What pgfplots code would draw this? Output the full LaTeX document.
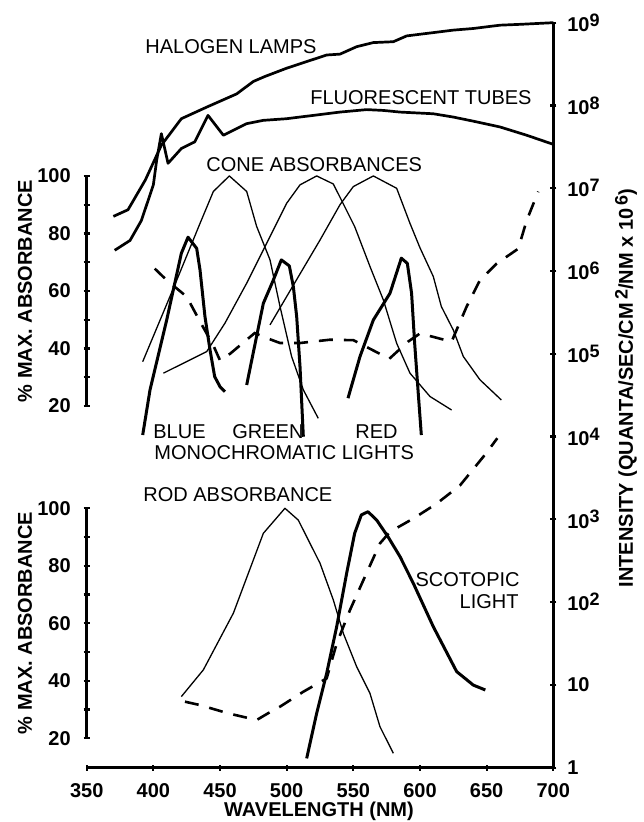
\documentclass[border=0pt]{standalone}
\usepackage{pgfplots}
\pgfplotsset{compat=1.18}
\usepackage{fontspec}
\setmainfont{Liberation Sans}
\newcommand{\expo}[1]{\raisebox{2.6pt}{\fontsize{9}{9}\selectfont #1}}
\begin{document}
\begin{tikzpicture}[x=0.5pt,y=0.5pt]
\useasboundingbox (0,0) rectangle (643,822);
\pgfplotsset{
  base/.style={
    scale only axis, width=233.3pt, height=372.5pt,
    at={(43.35pt,27.15pt)}, anchor=south west,
    xmin=350, xmax=700, clip=false,
    tick align=center, major tick length=3pt, minor tick length=3pt,
    every tick/.style={black, line width=1.1pt},
    /pgf/number format/assume math mode=true,
    tick label style={font=\fontsize{10}{12}\selectfont\bfseries},
  },
  thinc/.style={black, line width=0.65pt, line join=round, no markers},
  thickc/.style={black, line width=1.5pt, line join=round, no markers},
  lamp/.style={black, line width=1.35pt, line join=round, no markers},
  dashc/.style={black, line width=1.3pt, dash pattern=on 7pt off 5.5pt, no markers},
}
% ---------- intensity (log) axis ----------
\begin{axis}[base, ymode=log, ymin=1, ymax=1e9,
  axis x line*=bottom, axis y line*=right,
  axis line style={line width=1.25pt},
  xtick={350,400,450,500,550,600,650,700},
  xticklabels={350,400,450,500,550,600,650,700},
  ytick={1,10,100,1000,1e4,1e5,1e6,1e7,1e8,1e9},
  yticklabels={1,10,10\expo{2},10\expo{3},10\expo{4},10\expo{5},10\expo{6},10\expo{7},10\expo{8},10\expo{9}},
  minor y tick style={draw=none},
  yticklabel style={anchor=west, xshift=2pt},
  xticklabel style={yshift=-3pt},
]
% halogen lamps
\addplot[lamp] coordinates {
(370,4.57e6) (381,5.50e6) (394,1.26e7) (406,3.31e7) (421,6.92e7) (440,9.55e7)
(462.5,1.38e8) (475,1.95e8) (483.7,2.24e8) (500,2.82e8) (515,3.39e8) (530,4.07e8)
(540,4.17e8) (552.5,5.13e8) (565,5.75e8) (580,5.89e8) (590,6.92e8) (610,7.59e8)
(625,8.13e8) (640,8.51e8) (660,9.33e8) (675,9.55e8) (700,1.0e9)};
% fluorescent tubes
\addplot[lamp] coordinates {
(371,1.78e6) (382.5,2.34e6) (391,4.07e6) (400,1.10e7) (402.5,2.19e7) (406,4.57e7)
(411,2.00e7) (421,3.02e7) (431,3.63e7) (441,7.59e7) (452.5,4.37e7) (470,6.03e7)
(482.5,6.61e7) (500,6.92e7) (520,7.59e7) (540,8.32e7) (560,8.91e7) (572.5,8.71e7)
(585,8.32e7) (610,7.94e7) (625,7.24e7) (640,6.46e7) (660,5.50e7) (680,4.37e7) (700,3.39e7)};
% threshold for monochromatic lights (cones)
\addplot[dashc] coordinates {
(401,1.07e6) (410,7.76e5) (425,4.90e5) (435,2.45e5) (445,1.26e5) (450,8.32e4)
(457.5,1.0e5) (476,1.78e5) (485,1.55e5) (495,1.35e5) (510,1.35e5) (532.5,1.48e5)
(550,1.46e5) (555,1.33e5) (577,8.71e4) (591,1.40e5) (600,1.76e5) (610,1.60e5)
(623.7,1.40e5) (627.5,1.95e5) (635,3.72e5) (645,7.76e5) (657.5,1.23e6)
(673.7,1.86e6) (680,4.07e6) (688.7,9.12e6)};
% threshold for scotopic light
\addplot[dashc] coordinates {
(423.7,6.27) (435,5.71) (456,4.54) (477.5,3.77) (486,4.54) (495,5.46) (512.5,8.28)
(530,12.0) (537.5,31.6) (547.5,80.4) (558.7,203) (570,513) (577.5,708) (595,1023)
(612.5,1549) (630,2570) (648.7,6026) (658,9550)};
\end{axis}
% ---------- cone absorbance axis ----------
\begin{axis}[base, ymin=-105.8, ymax=153.3,
  axis x line=none, axis y line*=left,
  y axis line style={draw=none},
  ytick={20,40,60,80,100}, minor ytick={30,50,70,90},
  yticklabel style={anchor=east, xshift=-3pt},
]
\addplot[black, line width=1.25pt, no markers] coordinates {(350,20) (350,100)};
% cone absorbances
\addplot[thinc] coordinates {
(392,35.4) (416,62) (435,83.5) (445,94.6) (457,100) (470,94.6) (477.5,82.4)
(487.5,70.8) (495,54.6) (503.7,37.2) (512.5,25.6) (523.7,15.7)};
\addplot[thinc] coordinates {
(407.5,31.4) (440,38.9) (453.7,48.8) (470,62.7) (487.5,78.9) (500,90.5) (510,96.9)
(522.5,100) (535,97.2) (551,82.4) (562.5,68.5) (572.5,56.9) (582.5,41.8)
(592.5,31.4) (607.5,23.3) (623.7,18.6)};
\addplot[thinc] coordinates {
(487.5,48.2) (505,62) (525,77.7) (540,90) (550,96.3) (565,100) (582.5,95.7)
(592.5,83.5) (600,75) (610,65) (616,54.6) (625,46.4) (632.5,37.2) (645,29.1) (661,22.1)};
% monochromatic lights
\addplot[thickc] coordinates {
(392,9.9) (397.5,25.6) (410,49.9) (421,73.1) (426,78.7) (432.5,74.8) (435,67.3)
(438.7,51.1) (442.5,39.5) (446,30.2) (450,26.7) (453.7,25)};
\addplot[thickc] coordinates {
(470,27.3) (482.5,55.7) (490,63.8) (496,70.8) (502,68.7) (505,61.5) (507.5,51.1)
(510,33.7) (512.5,9.3)};
\addplot[thickc] coordinates {
(546,22.7) (555,37.2) (565,49.9) (577.5,59.2) (586,71.4) (590.5,69.6) (593.7,59.2)
(596,41.8) (598.7,24.4) (601,9.9)};
\end{axis}
% ---------- rod absorbance axis ----------
\begin{axis}[base, ymin=9.77, ymax=268.9,
  axis x line=none, axis y line*=left,
  y axis line style={draw=none},
  ytick={20,40,60,80,100}, minor ytick={30,50,70,90},
  yticklabel style={anchor=east, xshift=-3pt},
]
\addplot[black, line width=1.25pt, no markers] coordinates {(350,20) (350,100)};
\addplot[thinc] coordinates {
(421,34.5) (437.5,43.8) (460,63.5) (482.5,91.3) (498.7,100) (508.7,95.9) (525,80.9)
(535,68.1) (542.5,56.5) (552.5,44.9) (562.5,35.6) (570,24) (580,14.8)};
\addplot[thickc] coordinates {
(515,13) (522.5,28.7) (530,42.6) (537.5,58.8) (545,77.4) (551,91.3) (556,97.7)
(561,98.8) (567.5,95.9) (576,90.1) (585,83.2) (595,73.9) (610,58.8) (627.5,43.2)
(640,38.5) (649,36.8)};
\end{axis}
% ---------- texts ----------
\begin{scope}[every node/.style={inner sep=0pt, font=\fontsize{10}{12}\selectfont}]
\node[anchor=west] at (145,775) {HALOGEN LAMPS};
\node[anchor=west] at (310,724) {FLUORESCENT TUBES};
\node[anchor=west] at (206,657) {CONE ABSORBANCES};
\node[anchor=base west] at (153,383) {BLUE};
\node[anchor=base west] at (232,383) {GREEN};
\node[anchor=base west] at (355,383) {RED};
\node[anchor=west] at (154,369) {MONOCHROMATIC LIGHTS};
\node[anchor=west] at (143,327) {ROD ABSORBANCE};
\node[anchor=east] at (520,242) {SCOTOPIC};
\node[anchor=east] at (519,220) {LIGHT};
\end{scope}
\begin{scope}[every node/.style={inner sep=0pt, font=\fontsize{10}{12}\selectfont\bfseries}]
\node[rotate=90] at (25,531) {\% MAX. ABSORBANCE};
\node[rotate=90] at (25,199) {\% MAX. ABSORBANCE};
\node[rotate=90] at (626,434) {INTENSITY (QUANTA/SEC/CM\,\expo{2}/NM x 10\,\expo{6})};
\node at (319,11) {WAVELENGTH (NM)};
\end{scope}
\end{tikzpicture}
\end{document}
